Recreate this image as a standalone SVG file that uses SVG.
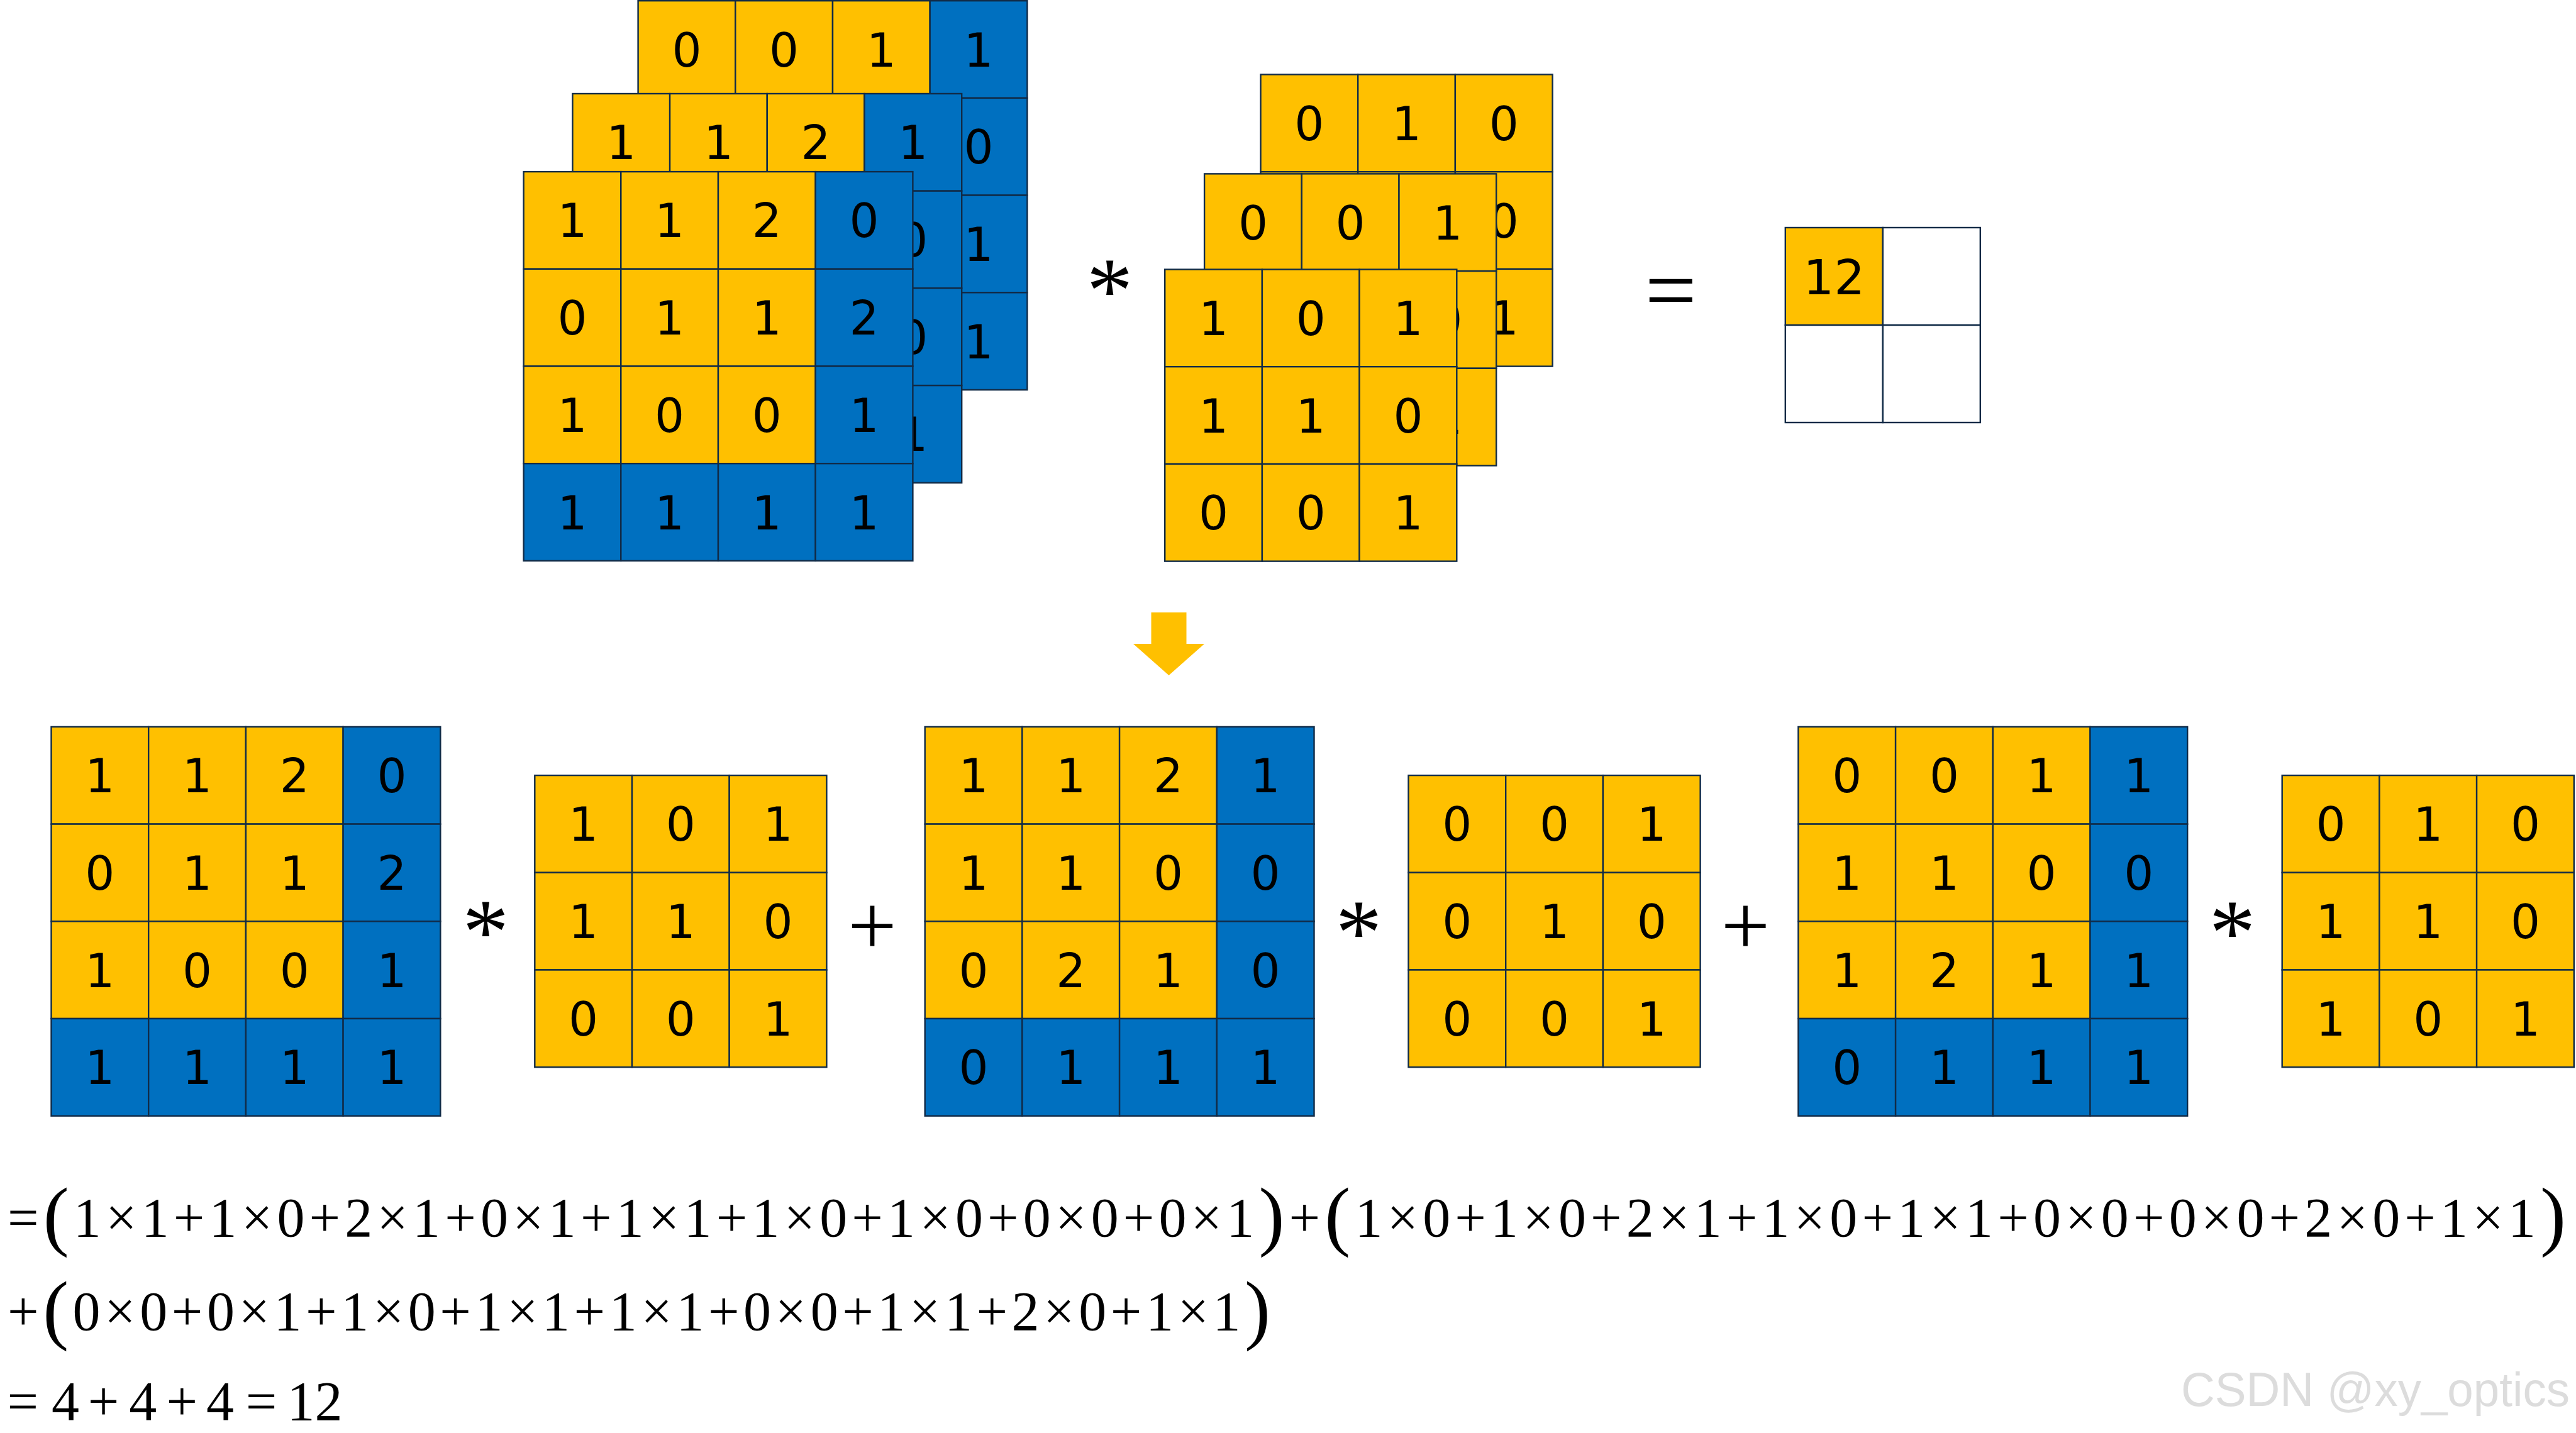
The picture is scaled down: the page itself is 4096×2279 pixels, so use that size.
<svg xmlns="http://www.w3.org/2000/svg" width="4096" height="2279" viewBox="0 0 4096 2279">
<style>
rect{stroke:#112B47;stroke-width:2.4}
.y{fill:#FFC000}.b{fill:#0070C0}.w{fill:#FFFFFF}
.d{font-family:"DejaVu Sans",sans-serif;font-size:74px;fill:#000;text-anchor:middle}
.op{font-family:"Liberation Serif",serif;fill:#000;text-anchor:middle}
.f{font-family:"Liberation Serif",serif;font-size:88px;fill:#000}
.p{font-size:123px}
.wm{font-family:"Liberation Sans",sans-serif;font-size:76px;fill:#DCDCDC}
</style>
<rect width="4096" height="2279" fill="#FFFFFF" style="stroke:none"/>

<!-- top input stack: channel 3 (back) -->
<g id="top-in-ch3" transform="translate(1014.6,1.2)">
<rect class="y" x="0" y="0" width="154.7" height="154.7"/><rect class="y" x="154.7" y="0" width="154.7" height="154.7"/><rect class="y" x="309.4" y="0" width="154.7" height="154.7"/><rect class="b" x="464.1" y="0" width="154.7" height="154.7"/>
<rect class="y" x="0" y="154.7" width="154.7" height="154.7"/><rect class="y" x="154.7" y="154.7" width="154.7" height="154.7"/><rect class="y" x="309.4" y="154.7" width="154.7" height="154.7"/><rect class="b" x="464.1" y="154.7" width="154.7" height="154.7"/>
<rect class="y" x="0" y="309.4" width="154.7" height="154.7"/><rect class="y" x="154.7" y="309.4" width="154.7" height="154.7"/><rect class="y" x="309.4" y="309.4" width="154.7" height="154.7"/><rect class="b" x="464.1" y="309.4" width="154.7" height="154.7"/>
<rect class="b" x="0" y="464.1" width="154.7" height="154.7"/><rect class="b" x="154.7" y="464.1" width="154.7" height="154.7"/><rect class="b" x="309.4" y="464.1" width="154.7" height="154.7"/><rect class="b" x="464.1" y="464.1" width="154.7" height="154.7"/>
<text class="d" x="77.35" y="104.35">0</text><text class="d" x="232.05" y="104.35">0</text><text class="d" x="386.75" y="104.35">1</text><text class="d" x="541.45" y="104.35">1</text>
<text class="d" x="541.45" y="259.05">0</text>
<text class="d" x="541.45" y="413.75">1</text>
<text class="d" x="541.45" y="568.45">1</text>
</g>

<!-- top input stack: channel 2 (middle) -->
<g id="top-in-ch2" transform="translate(910.4,149)">
<rect class="y" x="0" y="0" width="154.7" height="154.7"/><rect class="y" x="154.7" y="0" width="154.7" height="154.7"/><rect class="y" x="309.4" y="0" width="154.7" height="154.7"/><rect class="b" x="464.1" y="0" width="154.7" height="154.7"/>
<rect class="y" x="0" y="154.7" width="154.7" height="154.7"/><rect class="y" x="154.7" y="154.7" width="154.7" height="154.7"/><rect class="y" x="309.4" y="154.7" width="154.7" height="154.7"/><rect class="b" x="464.1" y="154.7" width="154.7" height="154.7"/>
<rect class="y" x="0" y="309.4" width="154.7" height="154.7"/><rect class="y" x="154.7" y="309.4" width="154.7" height="154.7"/><rect class="y" x="309.4" y="309.4" width="154.7" height="154.7"/><rect class="b" x="464.1" y="309.4" width="154.7" height="154.7"/>
<rect class="b" x="0" y="464.1" width="154.7" height="154.7"/><rect class="b" x="154.7" y="464.1" width="154.7" height="154.7"/><rect class="b" x="309.4" y="464.1" width="154.7" height="154.7"/><rect class="b" x="464.1" y="464.1" width="154.7" height="154.7"/>
<text class="d" x="77.35" y="104.35">1</text><text class="d" x="232.05" y="104.35">1</text><text class="d" x="386.75" y="104.35">2</text><text class="d" x="541.45" y="104.35">1</text>
<text class="d" x="541.45" y="259.05">0</text>
<text class="d" x="541.45" y="413.75">0</text>
<text class="d" x="541.45" y="568.45">1</text>
</g>

<!-- top input stack: channel 1 (front) -->
<g id="top-in-ch1" transform="translate(832.6,273.1)">
<rect class="y" x="0" y="0" width="154.7" height="154.7"/><rect class="y" x="154.7" y="0" width="154.7" height="154.7"/><rect class="y" x="309.4" y="0" width="154.7" height="154.7"/><rect class="b" x="464.1" y="0" width="154.7" height="154.7"/>
<rect class="y" x="0" y="154.7" width="154.7" height="154.7"/><rect class="y" x="154.7" y="154.7" width="154.7" height="154.7"/><rect class="y" x="309.4" y="154.7" width="154.7" height="154.7"/><rect class="b" x="464.1" y="154.7" width="154.7" height="154.7"/>
<rect class="y" x="0" y="309.4" width="154.7" height="154.7"/><rect class="y" x="154.7" y="309.4" width="154.7" height="154.7"/><rect class="y" x="309.4" y="309.4" width="154.7" height="154.7"/><rect class="b" x="464.1" y="309.4" width="154.7" height="154.7"/>
<rect class="b" x="0" y="464.1" width="154.7" height="154.7"/><rect class="b" x="154.7" y="464.1" width="154.7" height="154.7"/><rect class="b" x="309.4" y="464.1" width="154.7" height="154.7"/><rect class="b" x="464.1" y="464.1" width="154.7" height="154.7"/>
<text class="d" x="77.35" y="104.35">1</text><text class="d" x="232.05" y="104.35">1</text><text class="d" x="386.75" y="104.35">2</text><text class="d" x="541.45" y="104.35">0</text>
<text class="d" x="77.35" y="259.05">0</text><text class="d" x="232.05" y="259.05">1</text><text class="d" x="386.75" y="259.05">1</text><text class="d" x="541.45" y="259.05">2</text>
<text class="d" x="77.35" y="413.75">1</text><text class="d" x="232.05" y="413.75">0</text><text class="d" x="386.75" y="413.75">0</text><text class="d" x="541.45" y="413.75">1</text>
<text class="d" x="77.35" y="568.45">1</text><text class="d" x="232.05" y="568.45">1</text><text class="d" x="386.75" y="568.45">1</text><text class="d" x="541.45" y="568.45">1</text>
</g>

<g id="top-star"><text class="op" x="1764.5" y="512" style="font-size:148px">*</text></g>

<!-- top kernel stack -->
<g id="top-k3" transform="translate(2004.5,118.5)">
<rect class="y" x="0" y="0" width="154.7" height="154.7"/><rect class="y" x="154.7" y="0" width="154.7" height="154.7"/><rect class="y" x="309.4" y="0" width="154.7" height="154.7"/>
<rect class="y" x="0" y="154.7" width="154.7" height="154.7"/><rect class="y" x="154.7" y="154.7" width="154.7" height="154.7"/><rect class="y" x="309.4" y="154.7" width="154.7" height="154.7"/>
<rect class="y" x="0" y="309.4" width="154.7" height="154.7"/><rect class="y" x="154.7" y="309.4" width="154.7" height="154.7"/><rect class="y" x="309.4" y="309.4" width="154.7" height="154.7"/>
<text class="d" x="77.35" y="104.35">0</text><text class="d" x="232.05" y="104.35">1</text><text class="d" x="386.75" y="104.35">0</text>
<text class="d" x="386.75" y="259.05">0</text>
<text class="d" x="386.75" y="413.75">1</text>
</g>
<g id="top-k2" transform="translate(1915.1,276.4)">
<rect class="y" x="0" y="0" width="154.7" height="154.7"/><rect class="y" x="154.7" y="0" width="154.7" height="154.7"/><rect class="y" x="309.4" y="0" width="154.7" height="154.7"/>
<rect class="y" x="0" y="154.7" width="154.7" height="154.7"/><rect class="y" x="154.7" y="154.7" width="154.7" height="154.7"/><rect class="y" x="309.4" y="154.7" width="154.7" height="154.7"/>
<rect class="y" x="0" y="309.4" width="154.7" height="154.7"/><rect class="y" x="154.7" y="309.4" width="154.7" height="154.7"/><rect class="y" x="309.4" y="309.4" width="154.7" height="154.7"/>
<text class="d" x="77.35" y="104.35">0</text><text class="d" x="232.05" y="104.35">0</text><text class="d" x="386.75" y="104.35">1</text>
<text class="d" x="386.75" y="259.05">0</text>
<text class="d" x="386.75" y="413.75">1</text>
</g>
<g id="top-k1" transform="translate(1852.2,428.5)">
<rect class="y" x="0" y="0" width="154.7" height="154.7"/><rect class="y" x="154.7" y="0" width="154.7" height="154.7"/><rect class="y" x="309.4" y="0" width="154.7" height="154.7"/>
<rect class="y" x="0" y="154.7" width="154.7" height="154.7"/><rect class="y" x="154.7" y="154.7" width="154.7" height="154.7"/><rect class="y" x="309.4" y="154.7" width="154.7" height="154.7"/>
<rect class="y" x="0" y="309.4" width="154.7" height="154.7"/><rect class="y" x="154.7" y="309.4" width="154.7" height="154.7"/><rect class="y" x="309.4" y="309.4" width="154.7" height="154.7"/>
<text class="d" x="77.35" y="104.35">1</text><text class="d" x="232.05" y="104.35">0</text><text class="d" x="386.75" y="104.35">1</text>
<text class="d" x="77.35" y="259.05">1</text><text class="d" x="232.05" y="259.05">1</text><text class="d" x="386.75" y="259.05">0</text>
<text class="d" x="77.35" y="413.75">0</text><text class="d" x="232.05" y="413.75">0</text><text class="d" x="386.75" y="413.75">1</text>
</g>

<g id="top-equals"><text class="op" x="2656.6" y="510" style="font-size:146px">=</text></g>

<g id="result" transform="translate(2838.8,362)">
<rect class="y" x="0" y="0" width="155" height="155"/><rect class="w" x="155" y="0" width="155" height="155"/>
<rect class="w" x="0" y="155" width="155" height="155"/><rect class="w" x="155" y="155" width="155" height="155"/>
<text class="d" x="77.5" y="106" style="font-size:77px">12</text>
</g>

<g id="connectors">
<polygon points="1830.5,974 1886.5,974 1886.5,1024 1915,1024 1858.5,1074 1802,1024 1830.5,1024" fill="#FFC000"/>
</g>

<!-- bottom row -->
<g id="m1" transform="translate(81.5,1155.9)">
<rect class="y" x="0" y="0" width="154.7" height="154.7"/><rect class="y" x="154.7" y="0" width="154.7" height="154.7"/><rect class="y" x="309.4" y="0" width="154.7" height="154.7"/><rect class="b" x="464.1" y="0" width="154.7" height="154.7"/>
<rect class="y" x="0" y="154.7" width="154.7" height="154.7"/><rect class="y" x="154.7" y="154.7" width="154.7" height="154.7"/><rect class="y" x="309.4" y="154.7" width="154.7" height="154.7"/><rect class="b" x="464.1" y="154.7" width="154.7" height="154.7"/>
<rect class="y" x="0" y="309.4" width="154.7" height="154.7"/><rect class="y" x="154.7" y="309.4" width="154.7" height="154.7"/><rect class="y" x="309.4" y="309.4" width="154.7" height="154.7"/><rect class="b" x="464.1" y="309.4" width="154.7" height="154.7"/>
<rect class="b" x="0" y="464.1" width="154.7" height="154.7"/><rect class="b" x="154.7" y="464.1" width="154.7" height="154.7"/><rect class="b" x="309.4" y="464.1" width="154.7" height="154.7"/><rect class="b" x="464.1" y="464.1" width="154.7" height="154.7"/>
<text class="d" x="77.35" y="104.35">1</text><text class="d" x="232.05" y="104.35">1</text><text class="d" x="386.75" y="104.35">2</text><text class="d" x="541.45" y="104.35">0</text>
<text class="d" x="77.35" y="259.05">0</text><text class="d" x="232.05" y="259.05">1</text><text class="d" x="386.75" y="259.05">1</text><text class="d" x="541.45" y="259.05">2</text>
<text class="d" x="77.35" y="413.75">1</text><text class="d" x="232.05" y="413.75">0</text><text class="d" x="386.75" y="413.75">0</text><text class="d" x="541.45" y="413.75">1</text>
<text class="d" x="77.35" y="568.45">1</text><text class="d" x="232.05" y="568.45">1</text><text class="d" x="386.75" y="568.45">1</text><text class="d" x="541.45" y="568.45">1</text>
</g>
<g id="star1"><text class="op" x="772.3" y="1532" style="font-size:148px">*</text></g>
<g id="k1" transform="translate(850.3,1233.1)">
<rect class="y" x="0" y="0" width="154.7" height="154.7"/><rect class="y" x="154.7" y="0" width="154.7" height="154.7"/><rect class="y" x="309.4" y="0" width="154.7" height="154.7"/>
<rect class="y" x="0" y="154.7" width="154.7" height="154.7"/><rect class="y" x="154.7" y="154.7" width="154.7" height="154.7"/><rect class="y" x="309.4" y="154.7" width="154.7" height="154.7"/>
<rect class="y" x="0" y="309.4" width="154.7" height="154.7"/><rect class="y" x="154.7" y="309.4" width="154.7" height="154.7"/><rect class="y" x="309.4" y="309.4" width="154.7" height="154.7"/>
<text class="d" x="77.35" y="104.35">1</text><text class="d" x="232.05" y="104.35">0</text><text class="d" x="386.75" y="104.35">1</text>
<text class="d" x="77.35" y="259.05">1</text><text class="d" x="232.05" y="259.05">1</text><text class="d" x="386.75" y="259.05">0</text>
<text class="d" x="77.35" y="413.75">0</text><text class="d" x="232.05" y="413.75">0</text><text class="d" x="386.75" y="413.75">1</text>
</g>
<g id="plus1"><text class="op" x="1387" y="1518" style="font-size:138px">+</text></g>
<g id="m2" transform="translate(1470.7,1155.9)">
<rect class="y" x="0" y="0" width="154.7" height="154.7"/><rect class="y" x="154.7" y="0" width="154.7" height="154.7"/><rect class="y" x="309.4" y="0" width="154.7" height="154.7"/><rect class="b" x="464.1" y="0" width="154.7" height="154.7"/>
<rect class="y" x="0" y="154.7" width="154.7" height="154.7"/><rect class="y" x="154.7" y="154.7" width="154.7" height="154.7"/><rect class="y" x="309.4" y="154.7" width="154.7" height="154.7"/><rect class="b" x="464.1" y="154.7" width="154.7" height="154.7"/>
<rect class="y" x="0" y="309.4" width="154.7" height="154.7"/><rect class="y" x="154.7" y="309.4" width="154.7" height="154.7"/><rect class="y" x="309.4" y="309.4" width="154.7" height="154.7"/><rect class="b" x="464.1" y="309.4" width="154.7" height="154.7"/>
<rect class="b" x="0" y="464.1" width="154.7" height="154.7"/><rect class="b" x="154.7" y="464.1" width="154.7" height="154.7"/><rect class="b" x="309.4" y="464.1" width="154.7" height="154.7"/><rect class="b" x="464.1" y="464.1" width="154.7" height="154.7"/>
<text class="d" x="77.35" y="104.35">1</text><text class="d" x="232.05" y="104.35">1</text><text class="d" x="386.75" y="104.35">2</text><text class="d" x="541.45" y="104.35">1</text>
<text class="d" x="77.35" y="259.05">1</text><text class="d" x="232.05" y="259.05">1</text><text class="d" x="386.75" y="259.05">0</text><text class="d" x="541.45" y="259.05">0</text>
<text class="d" x="77.35" y="413.75">0</text><text class="d" x="232.05" y="413.75">2</text><text class="d" x="386.75" y="413.75">1</text><text class="d" x="541.45" y="413.75">0</text>
<text class="d" x="77.35" y="568.45">0</text><text class="d" x="232.05" y="568.45">1</text><text class="d" x="386.75" y="568.45">1</text><text class="d" x="541.45" y="568.45">1</text>
</g>
<g id="star2"><text class="op" x="2160.5" y="1533" style="font-size:148px">*</text></g>
<g id="k2" transform="translate(2239.5,1233.1)">
<rect class="y" x="0" y="0" width="154.7" height="154.7"/><rect class="y" x="154.7" y="0" width="154.7" height="154.7"/><rect class="y" x="309.4" y="0" width="154.7" height="154.7"/>
<rect class="y" x="0" y="154.7" width="154.7" height="154.7"/><rect class="y" x="154.7" y="154.7" width="154.7" height="154.7"/><rect class="y" x="309.4" y="154.7" width="154.7" height="154.7"/>
<rect class="y" x="0" y="309.4" width="154.7" height="154.7"/><rect class="y" x="154.7" y="309.4" width="154.7" height="154.7"/><rect class="y" x="309.4" y="309.4" width="154.7" height="154.7"/>
<text class="d" x="77.35" y="104.35">0</text><text class="d" x="232.05" y="104.35">0</text><text class="d" x="386.75" y="104.35">1</text>
<text class="d" x="77.35" y="259.05">0</text><text class="d" x="232.05" y="259.05">1</text><text class="d" x="386.75" y="259.05">0</text>
<text class="d" x="77.35" y="413.75">0</text><text class="d" x="232.05" y="413.75">0</text><text class="d" x="386.75" y="413.75">1</text>
</g>
<g id="plus2"><text class="op" x="2775.5" y="1518" style="font-size:138px">+</text></g>
<g id="m3" transform="translate(2859.4,1155.9)">
<rect class="y" x="0" y="0" width="154.7" height="154.7"/><rect class="y" x="154.7" y="0" width="154.7" height="154.7"/><rect class="y" x="309.4" y="0" width="154.7" height="154.7"/><rect class="b" x="464.1" y="0" width="154.7" height="154.7"/>
<rect class="y" x="0" y="154.7" width="154.7" height="154.7"/><rect class="y" x="154.7" y="154.7" width="154.7" height="154.7"/><rect class="y" x="309.4" y="154.7" width="154.7" height="154.7"/><rect class="b" x="464.1" y="154.7" width="154.7" height="154.7"/>
<rect class="y" x="0" y="309.4" width="154.7" height="154.7"/><rect class="y" x="154.7" y="309.4" width="154.7" height="154.7"/><rect class="y" x="309.4" y="309.4" width="154.7" height="154.7"/><rect class="b" x="464.1" y="309.4" width="154.7" height="154.7"/>
<rect class="b" x="0" y="464.1" width="154.7" height="154.7"/><rect class="b" x="154.7" y="464.1" width="154.7" height="154.7"/><rect class="b" x="309.4" y="464.1" width="154.7" height="154.7"/><rect class="b" x="464.1" y="464.1" width="154.7" height="154.7"/>
<text class="d" x="77.35" y="104.35">0</text><text class="d" x="232.05" y="104.35">0</text><text class="d" x="386.75" y="104.35">1</text><text class="d" x="541.45" y="104.35">1</text>
<text class="d" x="77.35" y="259.05">1</text><text class="d" x="232.05" y="259.05">1</text><text class="d" x="386.75" y="259.05">0</text><text class="d" x="541.45" y="259.05">0</text>
<text class="d" x="77.35" y="413.75">1</text><text class="d" x="232.05" y="413.75">2</text><text class="d" x="386.75" y="413.75">1</text><text class="d" x="541.45" y="413.75">1</text>
<text class="d" x="77.35" y="568.45">0</text><text class="d" x="232.05" y="568.45">1</text><text class="d" x="386.75" y="568.45">1</text><text class="d" x="541.45" y="568.45">1</text>
</g>
<g id="star3"><text class="op" x="3549.5" y="1533" style="font-size:148px">*</text></g>
<g id="k3" transform="translate(3628.7,1233.1)">
<rect class="y" x="0" y="0" width="154.7" height="154.7"/><rect class="y" x="154.7" y="0" width="154.7" height="154.7"/><rect class="y" x="309.4" y="0" width="154.7" height="154.7"/>
<rect class="y" x="0" y="154.7" width="154.7" height="154.7"/><rect class="y" x="154.7" y="154.7" width="154.7" height="154.7"/><rect class="y" x="309.4" y="154.7" width="154.7" height="154.7"/>
<rect class="y" x="0" y="309.4" width="154.7" height="154.7"/><rect class="y" x="154.7" y="309.4" width="154.7" height="154.7"/><rect class="y" x="309.4" y="309.4" width="154.7" height="154.7"/>
<text class="d" x="77.35" y="104.35">0</text><text class="d" x="232.05" y="104.35">1</text><text class="d" x="386.75" y="104.35">0</text>
<text class="d" x="77.35" y="259.05">1</text><text class="d" x="232.05" y="259.05">1</text><text class="d" x="386.75" y="259.05">0</text>
<text class="d" x="77.35" y="413.75">1</text><text class="d" x="232.05" y="413.75">0</text><text class="d" x="386.75" y="413.75">1</text>
</g>

<g id="formula">
<text class="f" x="12" y="1966" textLength="4068" lengthAdjust="spacing">=<tspan class="p" dy="8">(</tspan><tspan dy="-8">1×1+1×0+2×1+0×1+1×1+1×0+1×0+0×0+0×1</tspan><tspan class="p" dy="8">)</tspan><tspan dy="-8">+</tspan><tspan class="p" dy="8">(</tspan><tspan dy="-8">1×0+1×0+2×1+1×0+1×1+0×0+0×0+2×0+1×1</tspan><tspan class="p" dy="8">)</tspan></text>
<text class="f" x="12" y="2115" textLength="2008" lengthAdjust="spacing">+<tspan class="p" dy="8">(</tspan><tspan dy="-8">0×0+0×1+1×0+1×1+1×1+0×0+1×1+2×0+1×1</tspan><tspan class="p" dy="8">)</tspan></text>
<text class="f" y="2258" style="text-anchor:middle"><tspan x="36.4 103.9 164.5 227.2 289.2 349.9 415.6">=4+4+4=</tspan><tspan x="500.5">12</tspan></text>
</g>

<g id="watermark"><text class="wm" x="3468" y="2236" textLength="618" lengthAdjust="spacingAndGlyphs">CSDN @xy_optics</text></g>
</svg>
